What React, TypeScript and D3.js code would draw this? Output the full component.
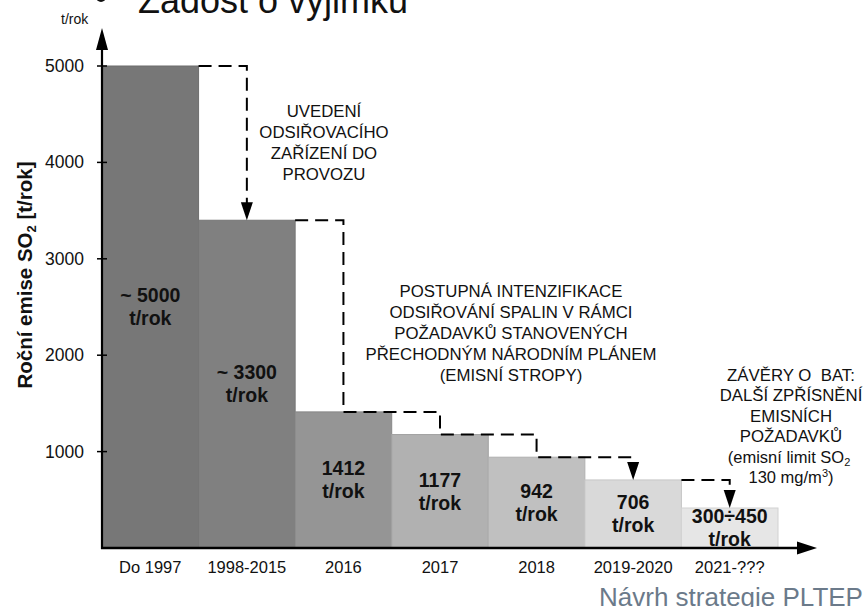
import React from "react";
import * as d3 from "d3";

const categories = ["Do 1997", "1998-2015", "2016", "2017", "2018", "2019-2020", "2021-???"];
const emissions = [5000, 3400, 1412, 1177, 942, 706, 415];
const barValueLabels = ["~ 5000", "~ 3300", "1412", "1177", "942", "706", "300÷450"];
const barUnit = "t/rok";
const barColors = ["#777777", "#808080", "#959595", "#b1b1b1", "#c0c0c0", "#d9d9d9", "#e6e6e6"];
const yTicks = [1000, 2000, 3000, 4000, 5000];
const noteInstall = ["UVEDENÍ", "ODSIŘOVACÍHO", "ZAŘÍZENÍ DO", "PROVOZU"];
const notePlan = [
  "POSTUPNÁ INTENZIFIKACE",
  "ODSIŘOVÁNÍ SPALIN V RÁMCI",
  "POŽADAVKŮ STANOVENÝCH",
  "PŘECHODNÝM NÁRODNÍM PLÁNEM",
  "(EMISNÍ STROPY)",
];
const noteBat = ["ZÁVĚRY O\u00a0 BAT:", "DALŠÍ ZPŘÍSNĚNÍ", "EMISNÍCH", "POŽADAVKŮ"];

const W = 867;
const H = 607;
const FONT = "'Liberation Sans', Arial, Helvetica, sans-serif";

export default function App() {
  const x0 = 102;
  const yBase = 548;
  const x = d3.scaleBand<string>().domain(categories).range([x0, 778]).paddingInner(0).paddingOuter(0);
  const y = d3.scaleLinear().domain([0, 5000]).range([yBase, 66]);
  const bw = x.bandwidth();
  const cx = (i: number) => (x(categories[i]) as number) + bw / 2;
  const right = (i: number) => (x(categories[i]) as number) + bw;

  // dashed connectors
  const p1 = d3.path();
  p1.moveTo(right(0), y(emissions[0]));
  p1.lineTo(cx(1), y(emissions[0]));
  p1.lineTo(cx(1), y(emissions[1]) - 17);

  const p2 = d3.path();
  p2.moveTo(right(1), y(emissions[1]));
  p2.lineTo(cx(2), y(emissions[1]));
  p2.lineTo(cx(2), y(emissions[2]));
  for (let i = 3; i <= 5; i++) {
    p2.lineTo(cx(i), y(emissions[i - 1]));
    p2.lineTo(cx(i), i === 5 ? y(emissions[i]) - 17 : y(emissions[i]));
  }

  const p3 = d3.path();
  p3.moveTo(right(5), y(emissions[5]));
  p3.lineTo(cx(6), y(emissions[5]));
  p3.lineTo(cx(6), y(emissions[6]) - 17);

  const arrowDown = (ax: number, tipY: number) =>
    `M${ax - 6},${tipY - 18} L${ax + 6},${tipY - 18} L${ax},${tipY} Z`;

  const lh = 21;

  return (
    <svg
      width={W}
      height={H}
      style={{ position: "absolute", left: 0, top: 0, background: "#fff", fontFamily: FONT }}
    >
      {/* title (cut off) */}
      <circle cx={101} cy={-3} r={5} fill="#111" />
      <text x={138} y={13} fontSize={36} fill="#111">Žádost o výjimku</text>

      {/* bars */}
      {emissions.map((v, i) => (
        <rect
          key={categories[i]}
          x={x(categories[i])}
          y={y(v)}
          width={bw}
          height={yBase - y(v)}
          fill={barColors[i]}
          stroke={d3.color(barColors[i])!.darker(0.25).toString()}
          strokeWidth={1}
        />
      ))}

      {/* bar labels */}
      {emissions.map((v, i) => {
        const mid = (y(v) + yBase) / 2;
        const b1 = mid - 4.75;
        return (
          <g key={"lab" + i} fontWeight="bold" fontSize={19.5} textAnchor="middle" fill="#111">
            <text x={cx(i)} y={b1}>{barValueLabels[i]}</text>
            <text x={cx(i)} y={b1 + 23}>{barUnit}</text>
          </g>
        );
      })}

      {/* dashed connectors */}
      <g fill="none" stroke="#000" strokeWidth={2} strokeDasharray="13,7">
        <path d={p1.toString()} />
        <path d={p2.toString()} />
        <path d={p3.toString()} />
      </g>
      <g fill="#000">
        <path d={arrowDown(cx(1), y(emissions[1]))} />
        <path d={arrowDown(cx(5), y(emissions[5]))} />
        <path d={arrowDown(cx(6), y(emissions[6]))} />
      </g>

      {/* y axis */}
      <line x1={x0} x2={x0} y1={yBase + 1} y2={45} stroke="#000" strokeWidth={2.2} />
      <path d={`M${x0},28 L${x0 - 6},50 L${x0 + 6},50 Z`} fill="#000" />
      {yTicks.map((t) => (
        <g key={t}>
          <line x1={x0 - 5} x2={x0 + 5} y1={y(t)} y2={y(t)} stroke="#000" strokeWidth={1.5} />
          <text x={84} y={y(t) + 6} textAnchor="end" fontSize={17.5} fill="#111">{t}</text>
        </g>
      ))}
      <text x={61} y={24} fontSize={14} fill="#111">t/rok</text>

      {/* x axis */}
      <line x1={x0 - 1} x2={800} y1={yBase} y2={yBase} stroke="#000" strokeWidth={2.5} />
      <path d={`M817,${yBase} L797,${yBase - 6.5} L797,${yBase + 6.5} Z`} fill="#000" />
      {categories.map((c, i) => (
        <text key={c} x={cx(i)} y={573} textAnchor="middle" fontSize={16.5} fill="#111">{c}</text>
      ))}

      {/* y axis title */}
      <text
        transform="translate(32,275) rotate(-90)"
        textAnchor="middle"
        fontWeight="bold"
        fontSize={20.5}
        fill="#111"
      >
        Roční emise SO<tspan dy={4} fontSize={13}>2</tspan><tspan dy={-4}> [t/rok]</tspan>
      </text>

      {/* annotations */}
      <g fontSize={16.8} textAnchor="middle" fill="#111">
        {noteInstall.map((s, i) => (
          <text key={s} x={324} y={117 + i * lh}>{s}</text>
        ))}
        {notePlan.map((s, i) => (
          <text key={s} x={511} y={297 + i * lh}>{s}</text>
        ))}
        {noteBat.map((s, i) => (
          <text key={s} x={791} y={381 + i * 20.4}>{s}</text>
        ))}
        <text x={789} y={381 + 4 * 20.4} fontSize={16.5}>
          (emisní limit SO<tspan dy={3} fontSize={11}>2</tspan>
        </text>
        <text x={791} y={381 + 5 * 20.4} fontSize={16.5}>
          130 mg/m<tspan dy={-6} fontSize={11}>3</tspan><tspan dy={6}>)</tspan>
        </text>
      </g>

      {/* footer */}
      <text x={599} y={606} fontSize={26} fill="#6b7a8a">Návrh strategie PLTEP</text>
    </svg>
  );
}
